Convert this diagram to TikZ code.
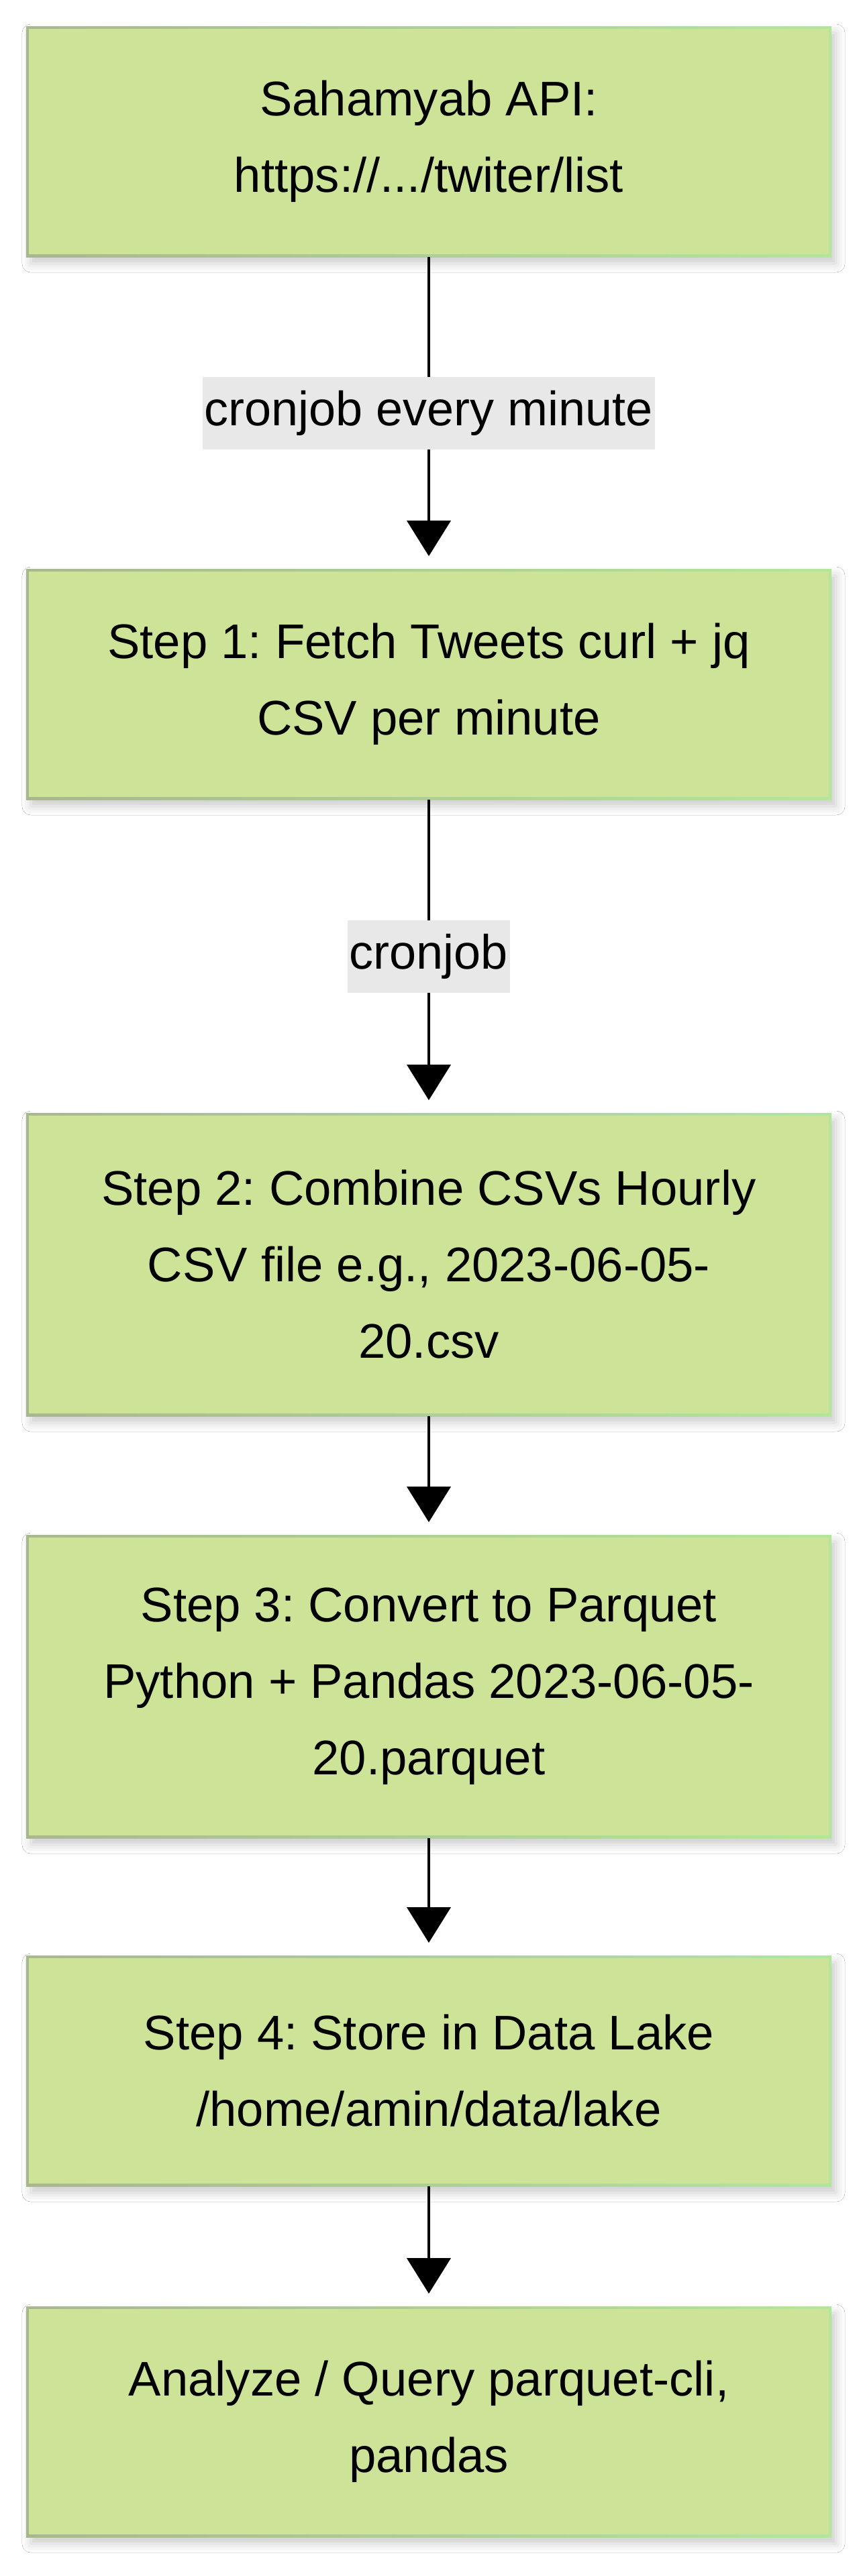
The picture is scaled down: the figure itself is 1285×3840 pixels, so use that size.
\documentclass[tikz,border=0pt]{standalone}
\usepackage{fontspec}
\setmainfont{Liberation Sans}
\usetikzlibrary{arrows.meta,shadows.blur}
\definecolor{boxfill}{HTML}{CDE498}
\definecolor{borderL}{HTML}{A9B78F}
\definecolor{borderR}{HTML}{B2E69B}
\definecolor{lblbg}{HTML}{E8E8E8}
\tikzset{
  stepbox/.style={rectangle, minimum width=240pt, outer sep=0pt, inner sep=0pt,
    align=center, font=\fontsize{14.5}{22.8}\selectfont,
    left color=borderL, right color=borderR,
    blur shadow={shadow xshift=1.4pt, shadow yshift=-2pt, shadow blur radius=2.6pt, shadow opacity=20},
    path picture={\fill[boxfill] ([shift={(0.8pt,0.8pt)}]path picture bounding box.south west)
      rectangle ([shift={(-0.8pt,-0.8pt)}]path picture bounding box.north east);}},
  twoline/.style={minimum height=68.8pt},
  threeline/.style={minimum height=90.4pt},
  flow/.style={line width=0.9pt, -{Triangle[width=13pt,length=10.6pt]}, shorten >=3.8pt},
  edgelabel/.style={fill=lblbg, inner xsep=0.5pt, inner ysep=0pt, minimum height=21.6pt,
    font=\fontsize{14.4}{22.8}\selectfont}
}
\begin{document}
\frenchspacing
\begin{tikzpicture}[x=0.2pt, y=-0.2pt]
\useasboundingbox[fill=white] (0,0) rectangle (1285,3840);
\node[stepbox, twoline] (api) at (639,211) {Sahamyab API:\\https://.../twiter/list};
\node[stepbox, twoline] (s1) at (639,1020) {Step 1: Fetch Tweets curl + jq\\CSV per minute};
\node[stepbox, threeline] (s2) at (639,1885) {Step 2: Combine CSVs Hourly\\CSV file e.g., 2023-06-05-\\20.csv};
\node[stepbox, threeline] (s3) at (639,2514) {Step 3: Convert to Parquet\\Python + Pandas 2023-06-05-\\20.parquet};
\node[stepbox, twoline] (s4) at (639,3087) {Step 4: Store in Data Lake\\/home/amin/data/lake};
\node[stepbox, twoline] (s5) at (639,3610) {Analyze / Query parquet-cli,\\pandas};
\draw[flow] (api) -- node[edgelabel] (l1) {cronjob every minute} (s1);
\draw[flow] (s1) -- node[edgelabel] (l2) {cronjob} (s2);
\draw[flow] (s2) -- (s3);
\draw[flow] (s3) -- (s4);
\draw[flow] (s4) -- (s5);
\end{tikzpicture}
\end{document}
